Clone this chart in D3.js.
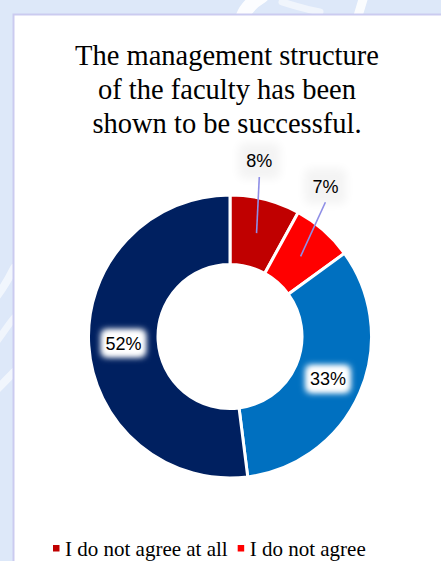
<!DOCTYPE html>
<html>
<head>
<meta charset="utf-8">
<script src="https://cdn.jsdelivr.net/npm/d3@7/dist/d3.min.js"></script>
<style>
  html, body { margin: 0; padding: 0; background: #dde8f9; overflow: hidden; }
  svg { display: block; }
</style>
</head>
<body>
<svg id="chart" width="441" height="561"></svg>
<script>
// Survey answers, in drawing order (clockwise from 12 o'clock)
const categories = ["I do not agree at all", "I do not agree", "I agree", "I completely agree"];
const values = [8, 7, 33, 52];
const valueLabels = ["8%", "7%", "33%", "52%"];
const colors = ["#C00000", "#FF0000", "#0070C0", "#002060"];
const titleLines = ["The management structure", "of the faculty has been", "shown to be successful."];

const W = 441, H = 561;
const svg = d3.select("#chart");
const defs = svg.append("defs");

defs.append("filter").attr("id", "soft").attr("x", "-50%").attr("y", "-50%")
  .attr("width", "200%").attr("height", "200%")
  .append("feGaussianBlur").attr("stdDeviation", 3);
defs.append("filter").attr("id", "softer").attr("x", "-50%").attr("y", "-50%")
  .attr("width", "200%").attr("height", "200%")
  .append("feGaussianBlur").attr("stdDeviation", 5);

// page backdrop with faint light strokes
const bg = svg.append("g");
bg.append("rect").attr("width", W).attr("height", H).attr("fill", "#dde8f9");
const wm = bg.append("g").attr("fill", "none").attr("stroke", "#ffffff").attr("stroke-linecap", "round");
wm.append("path").attr("d", "M243,16 C246,8 252,2 262,-4").attr("stroke-width", 14).attr("opacity", 0.9);
wm.append("path").attr("d", "M282,2 C295,6 308,10 320,12").attr("stroke-width", 7).attr("opacity", 0.55);
wm.append("path").attr("d", "M358,16 L364,-4").attr("stroke-width", 9).attr("opacity", 0.85);
wm.append("path").attr("d", "M-6,300 C2,290 8,280 14,268").attr("stroke-width", 8).attr("opacity", 0.6);
wm.append("path").attr("d", "M-6,345 C2,335 8,325 14,318").attr("stroke-width", 7).attr("opacity", 0.55);
wm.append("path").attr("d", "M-6,392 C2,385 8,378 14,372").attr("stroke-width", 8).attr("opacity", 0.6);

// white card
svg.append("rect")
  .attr("x", 13.5).attr("y", 14.5).attr("width", W + 20).attr("height", H + 20)
  .attr("fill", "#ffffff").attr("stroke", "#cbcbf0").attr("stroke-width", 2);

// title
const title = svg.append("text")
  .attr("text-anchor", "middle")
  .attr("font-family", "'Liberation Serif', 'Times New Roman', serif")
  .attr("font-size", 28.5)
  .attr("fill", "#000");
titleLines.forEach((t, i) => {
  title.append("tspan").attr("x", 227).attr("y", 65 + i * 34).text(t);
});

// donut
const cx = 230, cy = 336.5;
const rOuter = 141.5, rInner = 72;
const pie = d3.pie().sort(null).value(d => d.value);
const arcs = pie(values.map((v, i) => ({ value: v, i })));
const arc = d3.arc().innerRadius(rInner).outerRadius(rOuter);
const labelArc = d3.arc().innerRadius(73.5).outerRadius(140);

const g = svg.append("g").attr("transform", `translate(${cx},${cy})`);
g.selectAll("path.slice").data(arcs).join("path")
  .attr("class", "slice")
  .attr("d", arc)
  .attr("fill", d => colors[d.data.i])
  .attr("stroke", "#ffffff")
  .attr("stroke-width", 3)
  .attr("stroke-linejoin", "miter");

// label placement: small slices get their label outside with a leader line
const outsideRadius = 178;
const outsideNudge = [-0.086, -0.157]; // radians, rotate outside labels toward 12 o'clock
const fontFam = "'Liberation Sans', Arial, sans-serif";
const fontSize = 18;

const labels = arcs.map((d, k) => {
  const c = labelArc.centroid(d);
  const outside = d.data.value < 10;
  let p = c;
  if (outside) {
    const a = (d.startAngle + d.endAngle) / 2 + (outsideNudge[k] || 0);
    p = [outsideRadius * Math.sin(a), -outsideRadius * Math.cos(a)];
  }
  return { d, c, p, outside, text: valueLabels[d.data.i] };
});

const lg = g.append("g");
labels.forEach(L => {
  const w = L.text.length * 11 + 12;
  const h = 28;
  if (L.outside) {
    lg.append("rect").attr("x", L.p[0] - w / 2 - 4).attr("y", L.p[1] - h / 2 - 4)
      .attr("width", w + 8).attr("height", h + 8).attr("rx", 6)
      .attr("fill", "#000").attr("opacity", 0.045).attr("filter", "url(#softer)");
  } else {
    lg.append("rect").attr("x", L.p[0] - w / 2).attr("y", L.p[1] - h / 2)
      .attr("width", w).attr("height", h).attr("rx", 5)
      .attr("fill", "#ffffff").attr("filter", "url(#soft)");
    lg.append("rect").attr("x", L.p[0] - w / 2 + 3).attr("y", L.p[1] - h / 2 + 3)
      .attr("width", w - 6).attr("height", h - 6).attr("rx", 4)
      .attr("fill", "#ffffff").attr("filter", "url(#soft)");
  }
});

// leader lines
labels.filter(L => L.outside).forEach(L => {
  lg.append("line")
    .attr("x1", L.p[0]).attr("y1", L.p[1] + 16)
    .attr("x2", L.c[0]).attr("y2", L.c[1])
    .attr("stroke", "#8e8ee6").attr("stroke-width", 1.6);
});

lg.selectAll("text.val").data(labels).join("text")
  .attr("class", "val")
  .attr("x", L => L.p[0]).attr("y", L => L.p[1])
  .attr("dy", "0.36em")
  .attr("text-anchor", "middle")
  .attr("font-family", fontFam)
  .attr("font-size", fontSize)
  .attr("fill", "#000")
  .text(L => L.text);

// legend (flows onto further rows)
const legend = svg.append("g")
  .attr("font-family", "'Liberation Serif', 'Times New Roman', serif")
  .attr("font-size", 21);
let lx = 53, ly = 556;
const rowStart = 53, rowEnd = 400;
categories.forEach((name, i) => {
  const item = legend.append("g");
  const t = item.append("text").attr("x", 12).attr("y", 0).attr("fill", "#000").text(name);
  const tw = t.node().getComputedTextLength();
  const iw = 12 + tw;
  if (lx + iw > rowEnd && lx > rowStart) { lx = rowStart; ly += 26; }
  item.attr("transform", `translate(${lx},${ly})`);
  item.append("rect").attr("x", 0).attr("y", -11).attr("width", 6.5).attr("height", 6.5)
    .attr("fill", colors[i]);
  lx += iw + 10;
});
</script>
</body>
</html>
